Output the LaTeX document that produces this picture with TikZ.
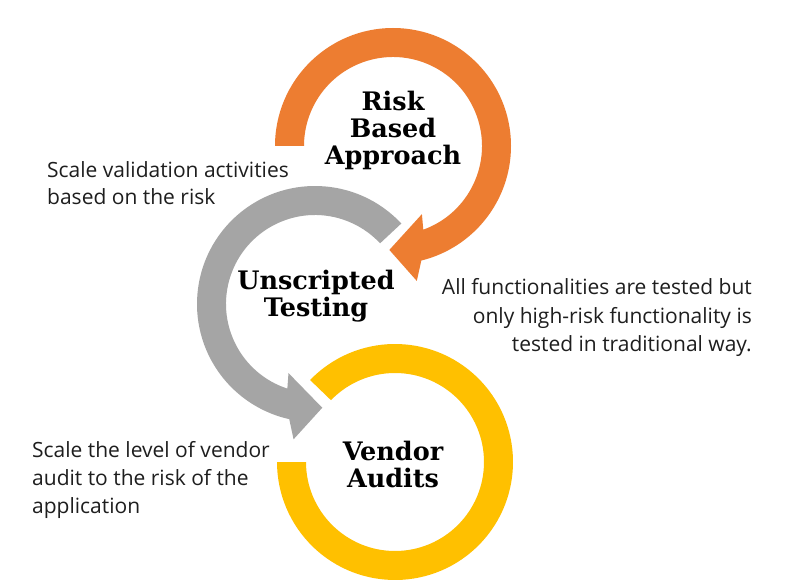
\documentclass[tikz,border=0pt]{standalone}
\usepackage{fontspec}
\setmainfont{Open Sans}
\newfontfamily\headfont{DejaVu Serif}
\definecolor{ringorange}{HTML}{ED7D31}
\definecolor{ringgray}{HTML}{A5A5A5}
\definecolor{ringyellow}{HTML}{FFC000}
\definecolor{notetext}{HTML}{1E1E1E}
\begin{document}
\begin{tikzpicture}[x=1pt,y=1pt,
  head/.style={font=\headfont\bfseries\fontsize{25.5}{27}\selectfont, align=center, text=black, inner sep=0pt},
  note/.style={font=\fontsize{21}{28}\selectfont, text=notetext, inner sep=0pt}]
\useasboundingbox (0,0) rectangle (788,-588);
\fill[white] (0,0) rectangle (788,-588);
% yellow ring
\begin{scope}[shift={(395,-462)}]
\fill[ringyellow] (136:118) arc[start angle=136, end angle=-180, radius=118]
  -- (180:89) arc[start angle=-180, end angle=136, radius=89] -- cycle;
\end{scope}
% gray ring with arrow
\begin{scope}[shift={(315,-304)}]
\fill[ringgray] (43:118) arc[start angle=43, end angle=257.4, radius=118]
  -- (261:137) -- (274:104) -- (249:74) -- (251.9:89)
  arc[start angle=251.9, end angle=43, radius=89] -- cycle;
\end{scope}
% orange ring with arrow
\begin{scope}[shift={(393,-146)}]
\fill[ringorange] (180:118) arc[start angle=180, end angle=-76.1, radius=118]
  -- (-80:137) -- (-92:104) -- (-67:74) -- (-70.1:89)
  arc[start angle=-70.1, end angle=180, radius=89] -- cycle;
\end{scope}
% titles (anchor base = baseline of last line)
\node[head, anchor=base] (risk) at (393,-165) {Risk\\Based\\Approach};
\node[head, anchor=base] (unscripted) at (316,-317) {Unscripted\\Testing};
\node[head, anchor=base] (vendor) at (393,-487) {Vendor\\Audits};
% notes
\node[note, anchor=base west, align=left, font=\fontsize{21}{27}\selectfont] (t1) at (47,-205) {Scale validation activities\\based on the risk};
\node[note, anchor=base east, align=right, font=\fontsize{21}{28.5}\selectfont] (t2) at (752,-352) {All functionalities are tested but\\only high-risk functionality is\\tested in traditional way.};
\node[note, anchor=base west, align=left] (t3) at (32,-513) {Scale the level of vendor\\audit to the risk of the\\application};
\end{tikzpicture}
\end{document}
